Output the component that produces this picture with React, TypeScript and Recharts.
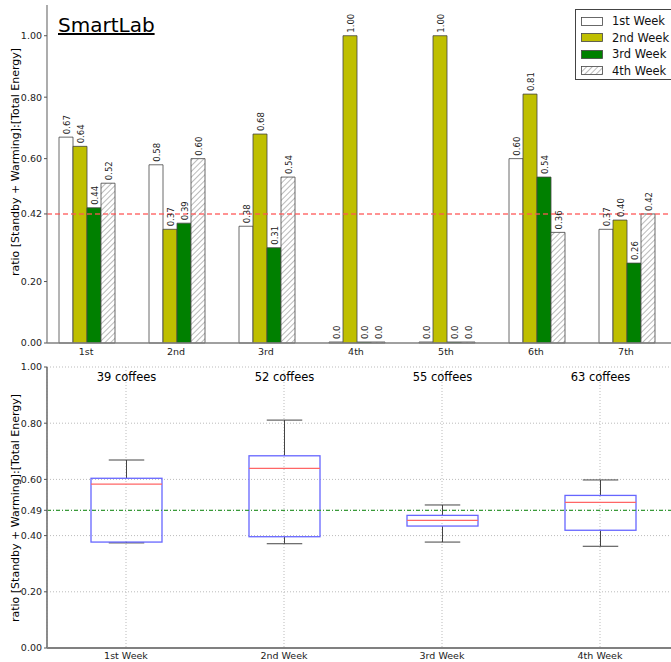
import {
  Bar,
  BarChart,
  CartesianGrid,
  ComposedChart,
  Label,
  LabelList,
  ReferenceLine,
  XAxis,
  YAxis,
} from "recharts";

const days = ["1st", "2nd", "3rd", "4th", "5th", "6th", "7th"];
const week1 = [0.67, 0.58, 0.38, 0, 0, 0.6, 0.37];
const week2 = [0.64, 0.37, 0.68, 1.0, 1.0, 0.81, 0.4];
const week3 = [0.44, 0.39, 0.31, 0, 0, 0.54, 0.26];
const week4 = [0.52, 0.6, 0.54, 0, 0, 0.36, 0.42];
const weekNames = ["1st Week", "2nd Week", "3rd Week", "4th Week"];
const topTicks = [0, 0.2, 0.42, 0.6, 0.8, 1.0];
const dailyMean = 0.42;

const boxLow = [0.374, 0.371, 0.377, 0.362];
const boxQ1 = [0.377, 0.396, 0.434, 0.419];
const boxMedian = [0.583, 0.639, 0.454, 0.518];
const boxQ3 = [0.604, 0.684, 0.472, 0.543];
const boxHigh = [0.669, 0.811, 0.509, 0.598];
const coffees = [39, 52, 55, 63];
const bottomTicks = [0, 0.2, 0.4, 0.49, 0.6, 0.8, 1.0];
const weeklyMean = 0.49;

const yTitle = "ratio [Standby + Warming]:[Total Energy]";
const font = "DejaVu Sans";
const frame = "#808080";
const weekFills = ["#ffffff", "#bfbf00", "#008000", "url(#hatch)"];

const dayData = days.map((name, i) => ({
  name,
  w1: week1[i],
  w2: week2[i],
  w3: week3[i],
  w4: week4[i],
}));

const boxData = weekNames.map((name, i) => ({
  name,
  low: boxLow[i],
  q1: boxQ1[i],
  median: boxMedian[i],
  q3: boxQ3[i],
  high: boxHigh[i],
  coffees: coffees[i],
}));

const fmt = (v: number) => Number(v).toFixed(2);

function yTitleAt(cx: number, cy: number) {
  return () => (
    <text
      x={cx}
      y={cy}
      transform={`rotate(-90 ${cx} ${cy})`}
      textAnchor="middle"
      dominantBaseline="middle"
      fontSize={11}
      fontFamily={font}
      fill="#000"
    >
      {yTitle}
    </text>
  );
}

function ValueLabel(props: any) {
  const { x, y, width, value } = props;
  const cx = x + width / 2 + 3.5;
  const cy = y - 3;
  return (
    <text
      transform={`translate(${cx}, ${cy}) rotate(-90)`}
      fontSize={8.5}
      fontFamily={font}
      fill="#222"
    >
      {value === 0 ? "0.0" : fmt(value)}
    </text>
  );
}

function BoxShape(props: any) {
  const { x, y, width, height, payload } = props;
  const top = Math.min(y, y + height);
  const bottom = Math.max(y, y + height);
  const k = (bottom - top) / (payload.q3 - payload.q1);
  const yOf = (v: number) => bottom - (v - payload.q1) * k;
  const cx = x + width / 2;
  const cap = width / 4;
  return (
    <g>
      <line x1={cx} x2={cx} y1={yOf(payload.q3)} y2={yOf(payload.high)} stroke="#444" />
      <line x1={cx} x2={cx} y1={yOf(payload.q1)} y2={yOf(payload.low)} stroke="#444" />
      <line x1={cx - cap} x2={cx + cap} y1={yOf(payload.high)} y2={yOf(payload.high)} stroke="#444" />
      <line x1={cx - cap} x2={cx + cap} y1={yOf(payload.low)} y2={yOf(payload.low)} stroke="#444" />
      <rect x={x} y={top} width={width} height={bottom - top} fill="none" stroke="#6666ff" strokeWidth={1.3} />
      <line x1={x} x2={x + width} y1={yOf(payload.median)} y2={yOf(payload.median)} stroke="#ff6666" strokeWidth={1.3} />
      <text x={cx} y={yOf(1) + 14} textAnchor="middle" fontSize={11.5} fontFamily={font} fill="#000">
        {`${payload.coffees} coffees`}
      </text>
    </g>
  );
}

function Swatch({ fill }: { fill: string }) {
  return (
    <svg width={22} height={9} style={{ display: "block" }}>
      <rect x={0.5} y={0.5} width={21} height={8} fill={fill} stroke="#444" strokeWidth={0.8} />
    </svg>
  );
}

export default function App() {
  return (
    <div
      style={{
        position: "absolute",
        left: 0,
        top: 0,
        width: 671,
        height: 662,
        overflow: "hidden",
        background: "#fff",
        fontFamily: font,
      }}
    >
      <svg width={0} height={0} style={{ position: "absolute" }}>
        <defs>
          <pattern
            id="hatch"
            width={4}
            height={4}
            patternUnits="userSpaceOnUse"
            patternTransform="rotate(45)"
          >
            <rect width={4} height={4} fill="#fff" />
            <line x1={0} y1={0} x2={0} y2={4} stroke="#777" strokeWidth={1} />
          </pattern>
        </defs>
      </svg>

      <div style={{ position: "absolute", left: 0, top: 0 }}>
        <BarChart
          width={690}
          height={360}
          data={dayData}
          margin={{ top: 5, right: 11, bottom: 0, left: 0 }}
          barCategoryGap="20%"
          barGap={0}
        >
          <XAxis
            dataKey="name"
            height={17}
            padding={{ left: -6, right: 8 }}
            tickLine={false}
            axisLine={{ stroke: frame, strokeWidth: 1.3 }}
            tick={{ fontSize: 9.5, fill: "#222", fontFamily: font, dy: -3 }}
          />
          <XAxis
            xAxisId="top"
            dataKey="name"
            orientation="top"
            height={0}
            mirror
            tickSize={4}
            padding={{ left: -6, right: 8 }}
            axisLine={{ stroke: frame, strokeWidth: 1.3 }}
            tickLine={{ stroke: frame }}
            tick={() => <g />}
          />
          <YAxis
            width={47}
            domain={[0, 1.1]}
            ticks={topTicks}
            tickFormatter={fmt}
            tickSize={3}
            axisLine={{ stroke: frame, strokeWidth: 1.3 }}
            tickLine={{ stroke: "#555" }}
            tick={{ fontSize: 9.5, fill: "#222", fontFamily: font }}
          >
            <Label content={yTitleAt(16, 162)} />
          </YAxis>
          <ReferenceLine
            y={dailyMean}
            stroke="#ff5555"
            strokeOpacity={0.85}
            strokeDasharray="5 3"
            strokeWidth={1.5}
          />
          {["w1", "w2", "w3", "w4"].map((key, i) => (
            <Bar
              key={key}
              dataKey={key}
              name={weekNames[i]}
              fill={weekFills[i]}
              stroke="#444"
              strokeWidth={0.8}
              minPointSize={1}
              isAnimationActive={false}
            >
              <LabelList dataKey={key} content={ValueLabel} />
            </Bar>
          ))}
        </BarChart>
        <div
          style={{
            position: "absolute",
            left: 575,
            top: 9,
            width: 105,
            height: 66,
            border: "1px solid #444",
            background: "#fff",
            paddingTop: 3,
            boxSizing: "content-box",
          }}
        >
          {weekNames.map((n, i) => (
            <div
              key={n}
              style={{ display: "flex", alignItems: "center", height: 16.5, fontSize: 11.5, color: "#111" }}
            >
              <div style={{ marginLeft: 5, marginRight: 9 }}>
                <Swatch fill={weekFills[i]} />
              </div>
              <span>{n}</span>
            </div>
          ))}
        </div>
        <div
          style={{
            position: "absolute",
            left: 58,
            top: 13,
            fontSize: 20,
            lineHeight: "24px",
            textDecoration: "underline",
            textDecorationThickness: 1.5,
            color: "#000",
          }}
        >
          SmartLab
        </div>
      </div>

      <div style={{ position: "absolute", left: 0, top: 360 }}>
        <ComposedChart
          width={690}
          height={302}
          data={boxData}
          margin={{ top: 7, right: 11, bottom: 0, left: 0 }}
        >
          <CartesianGrid stroke="#bbb" strokeDasharray="1 2" />
          <XAxis
            dataKey="name"
            height={14}
            tickLine={false}
            axisLine={{ stroke: frame, strokeWidth: 1.8 }}
            tick={{ fontSize: 9.5, fill: "#222", fontFamily: font, dy: -4 }}
          />
          <XAxis
            xAxisId="top"
            dataKey="name"
            orientation="top"
            height={0}
            tick={false}
            tickLine={false}
            axisLine={{ stroke: frame, strokeWidth: 1.8 }}
          />
          <YAxis
            width={47}
            domain={[0, 1]}
            ticks={bottomTicks}
            tickFormatter={fmt}
            tickSize={3}
            axisLine={{ stroke: frame, strokeWidth: 1.8 }}
            tickLine={{ stroke: "#555" }}
            tick={{ fontSize: 9.5, fill: "#222", fontFamily: font }}
          >
            <Label content={yTitleAt(16, 148)} />
          </YAxis>
          <ReferenceLine
            y={weeklyMean}
            stroke="#3a9a3a"
            strokeDasharray="4 2 1 2"
            strokeWidth={1.3}
          />
          <Bar
            dataKey={(d: any) => [d.q1, d.q3]}
            barSize={71}
            shape={BoxShape}
            isAnimationActive={false}
          />
        </ComposedChart>
      </div>
    </div>
  );
}
